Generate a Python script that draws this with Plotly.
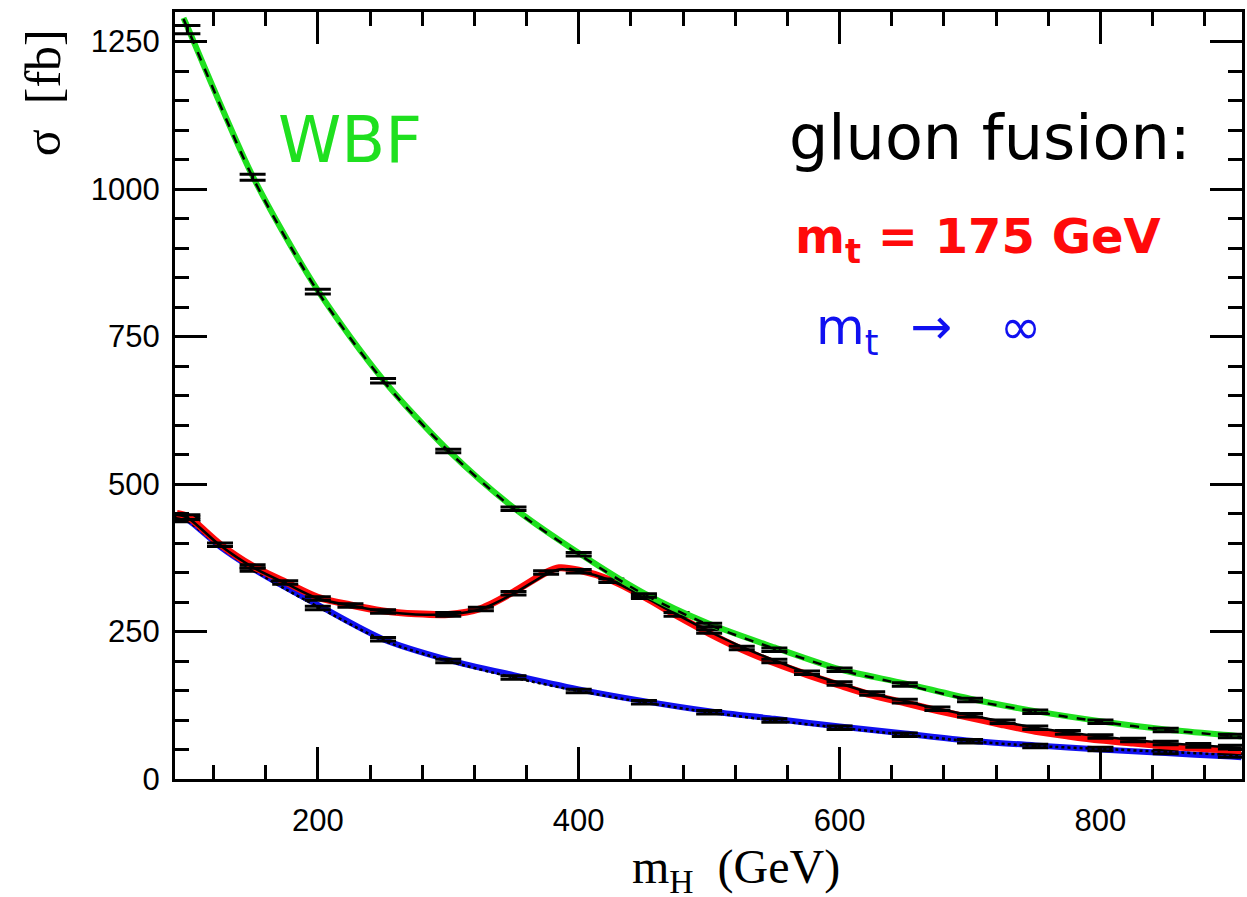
import plotly.graph_objects as go

# ---------------- data ----------------
# WBF cross section (green) and its Monte Carlo points (black dashed + bars)
mh_wbf = [97, 100, 150, 200, 250, 300, 350, 400, 450, 500, 550, 600, 650, 700, 750, 800, 850, 900, 908]
sigma_wbf = [1290, 1275, 1022, 828, 677, 557, 460, 383, 315, 263, 223, 186, 162, 136, 115, 98, 84, 74, 72]
sigma_wbf_mc = [1288, 1273, 1020, 826, 675, 556, 458, 381, 313, 261, 221, 185, 160, 134, 114, 97, 83, 73, 71]

mh_wbf_bars = [100, 150, 200, 250, 300, 350, 400, 450, 500, 550, 600, 650, 700, 750, 800, 850, 900]
sigma_wbf_bars = [1270, 1020, 826, 675, 556, 458, 381, 311, 261, 219, 185, 160, 134, 114, 97, 83, 73]
err_wbf_bars = [7, 5, 4, 4, 3, 3, 3, 3, 3, 3, 3, 3, 3, 3, 3, 3, 3]

# gluon fusion, m_t = 175 GeV (red) and MC (black solid + bars)
mh_gf = [92, 100, 125, 150, 175, 200, 225, 250, 275, 300, 325, 350, 375, 385, 400, 425, 450, 475,
         500, 525, 550, 575, 600, 625, 650, 675, 700, 725, 750, 775, 800, 825, 850, 875, 900, 908]
sigma_gf = [450, 445, 398, 361, 334, 308, 295, 285, 280, 279, 289, 317, 350, 358, 354, 337, 309, 277,
            247, 220, 197, 177, 159, 142, 129, 116, 104, 92, 81, 73, 66, 61, 56, 52, 49, 48]
sigma_gf_mc = [448, 443, 396, 359, 332, 306, 294, 284, 279, 279, 288, 314, 347, 355, 352, 336, 309, 279,
               250, 224, 201, 180, 162, 145, 132, 119, 108, 97, 87, 79, 72, 66, 61, 57, 54, 53]

mh_gf_bars = [100, 125, 150, 175, 200, 225, 250, 300, 325, 350, 375, 400, 425, 450, 475, 500, 525,
              550, 575, 600, 625, 650, 675, 700, 725, 750, 775, 800, 825, 850, 875, 900]
sigma_gf_bars = [444, 397, 360, 333, 306, 294, 284, 279, 288, 315, 350, 352, 336, 309, 279, 250, 222,
                 200, 180, 162, 145, 132, 119, 108, 97, 87, 79, 72, 66, 61, 57, 54]
err_gf_bars = [4, 3, 3, 3, 3, 3, 3, 3, 3, 3, 3, 3, 3, 3, 3, 3, 3,
               3, 3, 3, 3, 3, 3, 3, 3, 3, 3, 3, 3, 3, 3, 3]

# gluon fusion, m_t -> infinity (blue) and MC (black dotted + bars)
mh_inf = [92, 100, 125, 150, 175, 200, 250, 300, 350, 400, 450, 500, 550, 600, 650, 700, 750, 800, 850, 900, 908]
sigma_inf = [447, 440, 394, 357, 325, 295, 237, 202, 176, 152, 132, 115, 102, 89, 77, 65, 57, 50, 44, 38, 37]
sigma_inf_mc = [445, 438, 393, 355, 322, 292, 235, 200, 172, 149, 130, 113, 99, 87, 75, 64, 56, 51, 46, 41, 40]

mh_inf_bars = [100, 150, 200, 250, 300, 350, 400, 450, 500, 550, 600, 650, 700, 750, 800, 850, 900]
sigma_inf_bars = [440, 355, 290, 237, 200, 172, 149, 130, 113, 99, 87, 75, 64, 56, 51, 46, 40]
err_inf_bars = [4, 3, 3, 3, 3, 3, 3, 3, 3, 3, 3, 3, 3, 3, 3, 3, 3]

x_tick_vals = [200, 400, 600, 800]
y_tick_vals = [0, 250, 500, 750, 1000, 1250]

GREEN = "#1fe01f"
RED = "#ff0a0a"
BLUE = "#1010f0"

fig = go.Figure()

def thick(x, y, color, width):
    fig.add_trace(go.Scatter(x=x, y=y, mode="lines", line=dict(color=color, width=width, shape="spline", smoothing=0.8),
                             hoverinfo="skip", showlegend=False))

def thin(x, y, dash):
    fig.add_trace(go.Scatter(x=x, y=y, mode="lines", line=dict(color="black", width=2.5, dash=dash, shape="spline", smoothing=0.8),
                             hoverinfo="skip", showlegend=False))

def bars(x, y, e):
    fig.add_trace(go.Scatter(x=x, y=y, mode="markers", marker=dict(size=1, color="black", opacity=0),
                             error_y=dict(type="data", array=e, width=13, thickness=3, color="black"),
                             hoverinfo="skip", showlegend=False))

thick(mh_inf, sigma_inf, BLUE, 6)
thin(mh_inf, sigma_inf_mc, "dot")
bars(mh_inf_bars, sigma_inf_bars, err_inf_bars)

thick(mh_gf, sigma_gf, RED, 7)
thin(mh_gf, sigma_gf_mc, "solid")
bars(mh_gf_bars, sigma_gf_bars, err_gf_bars)

thick(mh_wbf, sigma_wbf, GREEN, 6)
thin(mh_wbf, sigma_wbf_mc, "dash")
bars(mh_wbf_bars, sigma_wbf_bars, err_wbf_bars)

axis_common = dict(
    showline=True, linewidth=3, linecolor="black", mirror="allticks",
    ticks="inside", ticklen=32, tickwidth=2.5, tickcolor="black",
    showgrid=False, zeroline=False,
    tickfont=dict(family="Liberation Sans", size=31, color="black"),
)

fig.update_xaxes(range=[90.5, 908.5], tickmode="array", tickvals=x_tick_vals,
                 ticktext=[str(v) for v in x_tick_vals], ticklabelstandoff=12,
                 minor=dict(ticks="inside", ticklen=14, tickwidth=2.5, tickcolor="black", dtick=40, tick0=0, showgrid=False),
                 **axis_common)
fig.update_yaxes(range=[0, 1300], tickmode="array", tickvals=y_tick_vals,
                 ticktext=[str(v) for v in y_tick_vals], ticklabelstandoff=6,
                 minor=dict(ticks="inside", ticklen=14, tickwidth=2.5, tickcolor="black", dtick=50, tick0=0, showgrid=False),
                 **axis_common)

hand = "DejaVu Sans"
annotations = [
    dict(text="WBF", x=0.1636, y=0.833, font=dict(family=hand, size=64, color=GREEN)),
    dict(text="gluon fusion:", x=0.7636, y=0.836, font=dict(family=hand, size=62, color="black")),
    dict(text="<b>m<sub>t</sub> = 175 GeV</b>", x=0.753, y=0.703, font=dict(family=hand, size=48, color=RED)),
    dict(text="m<sub>t</sub>  →   ∞", x=0.706, y=0.585, font=dict(family=hand, size=50, color=BLUE)),
    dict(text="m<sub>H</sub>  (GeV)", x=0.526, y=-0.118, font=dict(family="Liberation Serif", size=48, color="black")),
    dict(text="σ  [fb]", x=-0.124, y=0.895, textangle=-90, font=dict(family="Liberation Serif", size=50, color="black")),
]
for a in annotations:
    fig.add_annotation(xref="paper", yref="paper", showarrow=False, xanchor="center", yanchor="middle", **a)

fig.update_layout(
    width=1247, height=897,
    margin=dict(l=175, r=2, t=12, b=118),
    paper_bgcolor="white", plot_bgcolor="white",
    showlegend=False,
)

fig.write_html("out.html", config={"displayModeBar": False},
               post_script="document.body.style.margin='0';document.body.style.overflow='hidden';")
